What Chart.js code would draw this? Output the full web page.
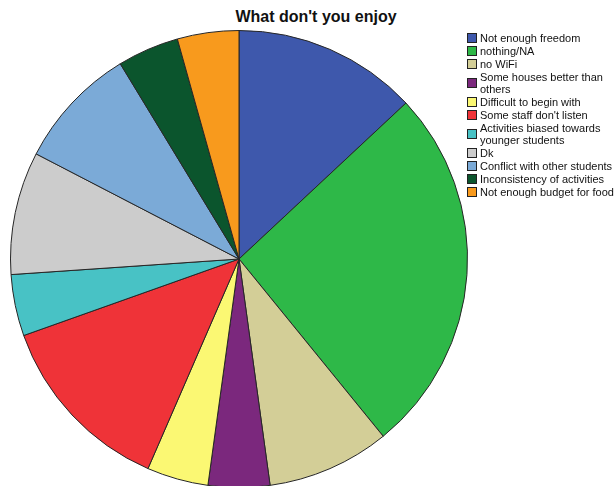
<!DOCTYPE html>
<html lang="en">
<head>
<meta charset="UTF-8">
<title>What don't you enjoy</title>
<style>
  body { margin: 0; background: #fff; font-family: "Liberation Sans", Arial, sans-serif; }
  #wrap { position: relative; width: 614px; height: 486px; overflow: hidden; }
  #titulo { position: absolute; top: 8px; left: 0; width: 632px; text-align: center;
            font-weight: bold; font-size: 16px; color: #111; }
  #pizza { position: absolute; left: 9px; top: 29px; width: 460px; height: 460px; }
  #legenda { position: absolute; left: 467px; top: 32px; font-size: 11px; color: #111; }
  .item { display: flex; align-items: center; margin-bottom: 1px; line-height: 12px; }
  .caixa { width: 8px; height: 8px; border: 1px solid #222; margin-right: 3px; flex: none; }
</style>
</head>
<body>
<div id="wrap">
  <div id="titulo">What don't you enjoy</div>
  <div id="pizza"><canvas id="grafico1"></canvas></div>
  <div id="legenda"></div>
</div>

<script src="https://cdn.jsdelivr.net/npm/chart.js"></script>
<script>
  let respostas = [
    "Not enough freedom",
    "nothing/NA",
    "no WiFi",
    ["Some houses better than", "others"],
    "Difficult to begin with",
    "Some staff don't listen",
    ["Activities biased towards", "younger students"],
    "Dk",
    "Conflict with other students",
    "Inconsistency of activities",
    "Not enough budget for food"
  ]
  let contagens = [3, 6, 2, 1, 1, 3, 1, 2, 2, 1, 1]
  let cores = ["#3E58AC", "#2EB848", "#D3CE97", "#7B287D", "#FBF873", "#EF3338",
               "#48C2C5", "#CCCCCC", "#7BAAD7", "#0B552D", "#F89A1D"]

  const ctx = document.getElementById('grafico1')

  let grafico1 = new Chart(ctx, {
    type: 'pie',
    data: {
      labels: respostas,
      datasets: [{
        data: contagens,
        backgroundColor: cores,
        borderColor: '#262626',
        borderWidth: 1
      }]
    },
    options: {
      responsive: true,
      maintainAspectRatio: false,
      animation: false,
      layout: { padding: 1 },
      plugins: {
        legend: { display: false },
        tooltip: { enabled: false }
      }
    }
  })

  // legenda em HTML para quebrar as linhas como no original
  const legenda = document.getElementById('legenda')
  respostas.forEach((r, i) => {
    const texto = Array.isArray(r) ? r.join('<br>') : r
    legenda.innerHTML += '<div class="item"><span class="caixa" style="background:' + cores[i] + '"></span><span>' + texto + '</span></div>'
  })
</script>
</body>
</html>
